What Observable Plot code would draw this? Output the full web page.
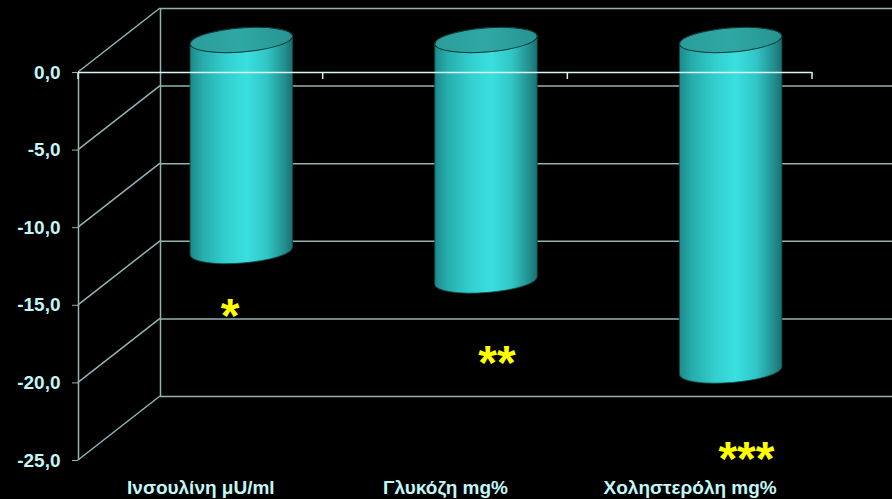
<!DOCTYPE html>
<html>
<head>
<meta charset="utf-8">
<script src="https://cdn.jsdelivr.net/npm/d3@7"></script>
<script src="https://cdn.jsdelivr.net/npm/@observablehq/plot@0.6"></script>
<style>
  html, body { margin: 0; padding: 0; background: #000; }
  #chart { width: 892px; height: 499px; overflow: hidden; }
</style>
</head>
<body>
<div id="chart"></div>
<script>
// ---- data ----
const categories = ["Ινσουλίνη μU/ml", "Γλυκόζη mg%", "Χοληστερόλη mg%"];
const changes = [-13.6, -15.5, -21.3];
const yTicks = [0, -5, -10, -15, -20, -25];
const starLabels = ["*", "**", "***"];
const starX = [0.62, 1.71, 2.73];
const starY = [-15.1, -18.1, -24.3];

// ---- style constants ----
const DX = 82, DY = -64;           // 3D depth offset (px)
const gridColor = "#93b3b3";
const textColor = "#c2f7f7";
const font = "'Liberation Sans', Arial, sans-serif";
const fmt = v => v.toFixed(1).replace(".", ",");

const bars = categories.map((c, i) => ({cat: c, i, value: changes[i]}));
const stars = starLabels.map((s, i) => ({s, x: starX[i], y: starY[i]}));

// diagonals linking the front axis to the back wall
function diagonals(index, scales) {
  const {x, y} = scales;
  const g = d3.create("svg:g").attr("stroke", gridColor).attr("stroke-width", 1.5);
  for (const v of yTicks) {
    g.append("line")
      .attr("x1", x(0)).attr("y1", y(v))
      .attr("x2", x(0) + DX).attr("y2", y(v) + DY);
  }
  return g.node();
}

// 3D cylinders
function cylinders(index, scales) {
  const {x, y} = scales;
  const g = d3.create("svg:g");
  const defs = g.append("defs");
  const body = defs.append("linearGradient").attr("id", "cylBody")
    .attr("x1", "0%").attr("x2", "100%").attr("y1", "0%").attr("y2", "0%");
  [[0, "#1c8a8a"], [0.12, "#27acac"], [0.35, "#33cfcf"], [0.55, "#3adfdf"], [0.75, "#31c6c6"], [0.92, "#238f8f"], [1, "#1a7070"]]
    .forEach(([o, c]) => body.append("stop").attr("offset", o).attr("stop-color", c));
  const top = defs.append("linearGradient").attr("id", "cylTop")
    .attr("x1", "0%").attr("x2", "100%").attr("y1", "0%").attr("y2", "0%");
  [[0, "#2a9d9a"], [0.5, "#2fa8a5"], [1, "#279390"]]
    .forEach(([o, c]) => top.append("stop").attr("offset", o).attr("stop-color", c));

  const bw = x(1) - x(0);
  const rx = bw * 0.21, ry = 12;
  const th = -4.5 * Math.PI / 180;
  const ex = rx * Math.cos(th), ey = rx * Math.sin(th);
  for (const b of bars) {
    const cx = x(b.i + 0.5) + DX / 2;
    const yt = y(0) + DY / 2;
    const yb = y(b.value) + DY / 2;
    const lT = [cx - ex, yt - ey], rT = [cx + ex, yt + ey];
    const lB = [cx - ex, yb - ey], rB = [cx + ex, yb + ey];
    const deg = th * 180 / Math.PI;
    const d = `M${lT} L${lB} A${rx},${ry} ${deg} 0 0 ${rB} L${rT} A${rx},${ry} ${deg} 0 0 ${lT} Z`;
    g.append("path").attr("d", d).attr("fill", "url(#cylBody)")
      .attr("stroke", "#0f4a4a").attr("stroke-width", 0.8);
    g.append("ellipse").attr("cx", cx).attr("cy", yt).attr("rx", rx).attr("ry", ry)
      .attr("transform", `rotate(${deg},${cx},${yt})`)
      .attr("fill", "url(#cylTop)").attr("stroke", "#0b3535").attr("stroke-width", 1);
  }
  return g.node();
}

// small ticks on the front zero line at category boundaries
function zeroTicks(index, scales) {
  const {x, y} = scales;
  const g = d3.create("svg:g").attr("stroke", "#d6f6f6").attr("stroke-width", 1.5);
  for (let k = 0; k <= categories.length; k++) {
    g.append("line").attr("x1", x(k)).attr("x2", x(k)).attr("y1", y(0)).attr("y2", y(0) + 7);
  }
  return g.node();
}

const chart = Plot.plot({
  width: 892,
  height: 499,
  marginTop: 72,
  marginBottom: 39,
  marginLeft: 78,
  marginRight: 80,
  style: {background: "#000", color: textColor, fontFamily: font, overflow: "visible"},
  x: {domain: [0, categories.length], axis: null},
  y: {domain: [-25, 0], axis: null},
  marks: [
    // back wall gridlines
    Plot.ruleY(yTicks, {x1: 0, x2: categories.length, dx: DX, dy: DY, stroke: gridColor, strokeWidth: 1.5}),
    // back wall vertical edge
    Plot.ruleX([0], {y1: -25, y2: 0, dx: DX, dy: DY, stroke: gridColor, strokeWidth: 1.5}),
    diagonals,
    // front vertical axis line
    Plot.ruleX([0], {y1: -25, y2: 0, stroke: gridColor, strokeWidth: 1.5}),
    cylinders,
    // front zero line
    Plot.ruleY([0], {x1: 0, x2: categories.length, stroke: "#d6f6f6", strokeWidth: 1.5}),
    zeroTicks,
    Plot.axisY({ticks: yTicks, tickSize: 6, tickPadding: 12, tickFormat: fmt,
      stroke: gridColor, fill: textColor, fontSize: 19, fontWeight: "bold", label: null}),
    Plot.axisX({ticks: categories.map((c, i) => i + 0.5), tickFormat: d => categories[Math.floor(d)],
      tickSize: 0, tickPadding: 20, fill: textColor, fontSize: 19, fontWeight: "bold", label: null}),
    Plot.text(stars, {x: "x", y: "y", text: "s", fill: "#ffff00", fontSize: 48, fontWeight: "bold", dy: 10})
  ]
});
document.getElementById("chart").appendChild(chart);
</script>
</body>
</html>
